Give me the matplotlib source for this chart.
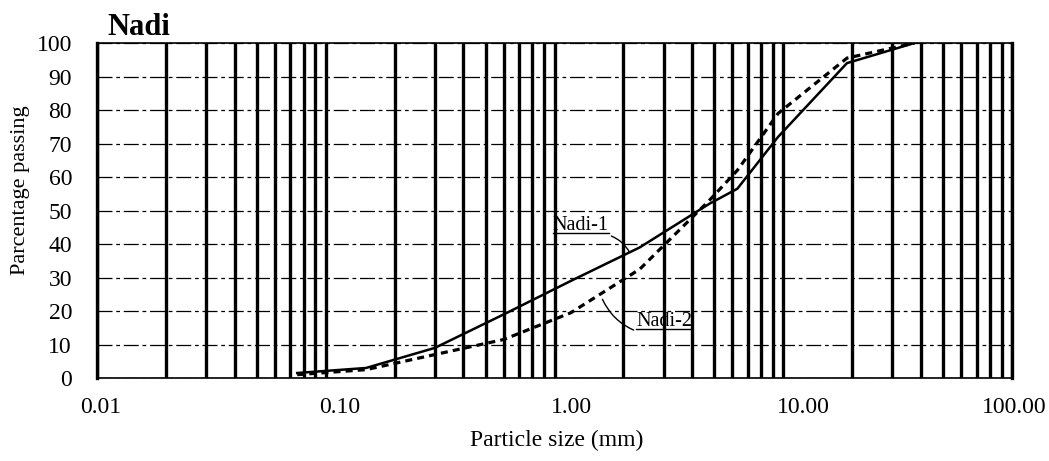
import matplotlib.pyplot as plt
from matplotlib.text import Text
from matplotlib.transforms import ScaledTranslation
from matplotlib.ticker import LogLocator, NullFormatter, FixedLocator

# sieve sizes (mm) and percentage passing
sieve_mm = [0.075, 0.15, 0.3, 0.6, 1.18, 2.36, 4.75, 6.3, 9.5, 19.0, 37.5]
nadi1 = [1.5, 3, 9, 19, 29, 39, 52, 56.5, 72, 94, 100]
nadi2 = [1, 2.5, 7, 11.5, 19.5, 32.5, 53, 62, 79, 95.5, 100]

x_ticks = [0.01, 0.1, 1, 10, 100]
x_ticklabels = ["0.01", "0.10", "1.00", "10.00", "100.00"]
y_ticks = list(range(0, 101, 10))

plt.rcParams['font.family'] = ['Liberation Serif', 'DejaVu Serif']

fig = plt.figure(figsize=(10.49, 4.61), dpi=100)
ax = fig.add_axes([0.0925, 0.18, 0.8722, 0.7267])

ax.set_xscale('log')
ax.set_xlim(0.01, 100)
ax.set_ylim(0, 100)

# thick vertical lines at every 1..9 of each decade
ax.xaxis.set_major_locator(FixedLocator(x_ticks))
ax.xaxis.set_minor_locator(LogLocator(base=10, subs=range(1, 10)))
ax.xaxis.set_minor_formatter(NullFormatter())
ax.set_xticklabels(x_ticklabels)
ax.grid(which='both', axis='x', color='black', linewidth=2.4)
ax.set_yticks(y_ticks)
ax.grid(which='major', axis='y', color='black', linewidth=0.9,
        linestyle=(0, (12, 3, 3, 3)))
ax.tick_params(which='both', length=0, labelsize=17)
ax.tick_params(axis='x', pad=14)
ax.tick_params(axis='y', pad=18)

# the printed x labels sit a little right of their lines
for lab, dx in zip(ax.get_xticklabels(), [4, 14, 17, 20, 2]):
    lab.set_transform(lab.get_transform() + ScaledTranslation(dx / 100, 0, fig.dpi_scale_trans))

for side in ['left', 'right']:
    ax.spines[side].set_linewidth(2.4)
for side in ['top', 'bottom']:
    ax.spines[side].set_linewidth(1.2)

ax.plot(sieve_mm, nadi1, color='black', linewidth=1.8, zorder=5)
ax.plot(sieve_mm, nadi2, color='black', linewidth=2.3, linestyle=(0, (2.2, 1.6)), zorder=5)

ax.set_xlabel("Particle size (mm)", fontsize=17, va='center')
ax.xaxis.set_label_coords(0.502, -0.185)
ax.set_ylabel("Parcentage passing", fontsize=16, va='center')
ax.yaxis.set_label_coords(-0.084, 0.56)
fig.text(0.102, 0.94, "Nadi", fontsize=22, fontweight='bold', ha='left', va='center')

# curve labels with leader lines
t1 = ax.annotate("Nadi-1", xy=(2.13, 37.5), xytext=(1.30, 45.5), fontsize=14.5,
                 ha='center', va='center',
                 arrowprops=dict(arrowstyle='-', color='black', lw=1.0,
                                 shrinkA=0, shrinkB=0,
                                 connectionstyle='arc3,rad=-0.2',
                                 relpos=(1.0, 0.0)))
t2 = ax.annotate("Nadi-2", xy=(1.62, 23.5), xytext=(2.28, 16.8), fontsize=14.5,
                 ha='left', va='center',
                 arrowprops=dict(arrowstyle='-', color='black', lw=1.0,
                                 shrinkA=0, shrinkB=0,
                                 connectionstyle='arc3,rad=-0.2',
                                 relpos=(0.0, 0.0)))

# underline the curve labels
fig.canvas.draw()
inv = fig.transFigure.inverted()
for t in (t1, t2):
    bb = Text.get_window_extent(t)
    (x0, y0), (x1, _) = inv.transform([(bb.x0, bb.y0), (bb.x1, bb.y1)])
    fig.add_artist(plt.Line2D([x0, x1], [y0 + 0.004, y0 + 0.004], color='black', lw=1.0))

fig.savefig("out.png", dpi=100)
